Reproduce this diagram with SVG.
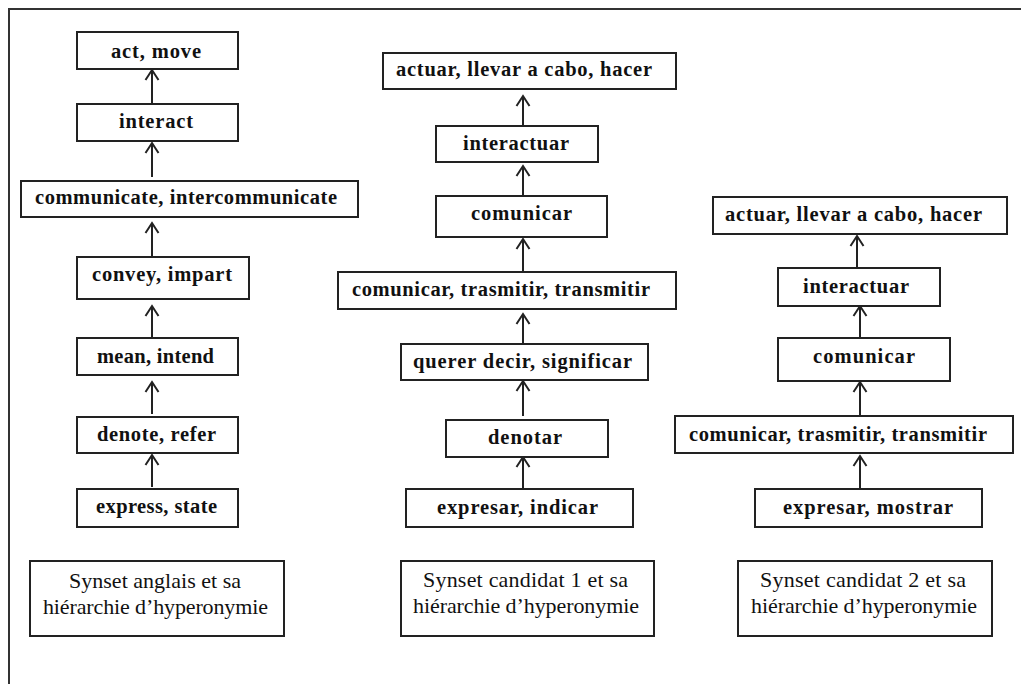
<svg xmlns="http://www.w3.org/2000/svg" width="1021" height="684" viewBox="0 0 1021 684">
<style>
.n{fill:#fff;stroke:#222;stroke-width:2}
.t{font-family:"Liberation Serif","Times New Roman",serif;font-weight:bold;font-size:20.5px;fill:#111;text-anchor:start}
.l{font-family:"Liberation Serif","Times New Roman",serif;font-size:22px;fill:#111}
.c{stroke:#222;stroke-width:2;fill:none;marker-end:url(#ah)}
</style>
<defs>
<marker id="ah" markerUnits="userSpaceOnUse" markerWidth="16" markerHeight="16" refX="12" refY="8" orient="auto" viewBox="0 0 16 16">
<path d="M2,1.5 L12,8 L2,14.5" fill="none" stroke="#222" stroke-width="2"/>
</marker>
</defs>
<rect width="1021" height="684" fill="#fff"/>
<path d="M9,684 V9 H1021" fill="none" stroke="#333" stroke-width="2"/>

<g id="connectors">
<line class="c" x1="152" y1="104" x2="152" y2="70"/>
<line class="c" x1="152" y1="177" x2="152" y2="143"/>
<line class="c" x1="152" y1="257" x2="152" y2="223"/>
<line class="c" x1="152" y1="338" x2="152" y2="306"/>
<line class="c" x1="152" y1="414" x2="152" y2="382"/>
<line class="c" x1="152" y1="487" x2="152" y2="455"/>
<line class="c" x1="523" y1="126" x2="523" y2="96"/>
<line class="c" x1="523" y1="196" x2="523" y2="166"/>
<line class="c" x1="523" y1="272" x2="523" y2="239"/>
<line class="c" x1="523" y1="344" x2="523" y2="314"/>
<line class="c" x1="523" y1="416" x2="523" y2="381"/>
<line class="c" x1="523" y1="489" x2="523" y2="457"/>
<line class="c" x1="857" y1="268" x2="857" y2="236"/>
<line class="c" x1="860" y1="338" x2="860" y2="306"/>
<line class="c" x1="860" y1="416" x2="860" y2="382"/>
<line class="c" x1="860" y1="489" x2="860" y2="456"/>
</g>

<g id="en-act"><rect class="n" x="77" y="32" width="161" height="37"/><text class="t" x="111" y="58" textLength="90" lengthAdjust="spacing">act, move</text></g>
<g id="en-interact"><rect class="n" x="77" y="104" width="161" height="37"/><text class="t" x="119" y="128" textLength="74" lengthAdjust="spacing">interact</text></g>
<g id="en-communicate"><rect class="n" x="21" y="181" width="337" height="36"/><text class="t" x="35" y="204" textLength="302" lengthAdjust="spacing">communicate, intercommunicate</text></g>
<g id="en-convey"><rect class="n" x="77" y="257" width="172" height="42"/><text class="t" x="92" y="281" textLength="140" lengthAdjust="spacing">convey, impart</text></g>
<g id="en-mean"><rect class="n" x="77" y="338" width="161" height="37"/><text class="t" x="97" y="363" textLength="117" lengthAdjust="spacing">mean, intend</text></g>
<g id="en-denote"><rect class="n" x="77" y="417" width="161" height="36"/><text class="t" x="97" y="441" textLength="119" lengthAdjust="spacing">denote, refer</text></g>
<g id="en-express"><rect class="n" x="77" y="489" width="161" height="38"/><text class="t" x="96" y="513" textLength="121" lengthAdjust="spacing">express, state</text></g>
<g id="en-label"><rect class="n" x="30" y="561" width="254" height="75"/><text class="l" x="69" y="588" textLength="172" lengthAdjust="spacing">Synset anglais et sa</text><text class="l" x="43" y="614" textLength="225" lengthAdjust="spacing">hiérarchie d’hyperonymie</text></g>

<g id="c1-actuar"><rect class="n" x="383" y="53" width="293" height="36"/><text class="t" x="396" y="76" textLength="256" lengthAdjust="spacing">actuar, llevar a cabo, hacer</text></g>
<g id="c1-interactuar"><rect class="n" x="436" y="126" width="162" height="36"/><text class="t" x="463" y="150" textLength="106" lengthAdjust="spacing">interactuar</text></g>
<g id="c1-comunicar"><rect class="n" x="436" y="196" width="171" height="41"/><text class="t" x="471" y="220" textLength="101" lengthAdjust="spacing">comunicar</text></g>
<g id="c1-trasmitir"><rect class="n" x="338" y="272" width="338" height="37"/><text class="t" x="352" y="296" textLength="298" lengthAdjust="spacing">comunicar, trasmitir, transmitir</text></g>
<g id="c1-querer"><rect class="n" x="401" y="344" width="247" height="36"/><text class="t" x="413" y="368" textLength="219" lengthAdjust="spacing">querer decir, significar</text></g>
<g id="c1-denotar"><rect class="n" x="446" y="420" width="162" height="37"/><text class="t" x="488" y="444" textLength="74" lengthAdjust="spacing">denotar</text></g>
<g id="c1-expresar"><rect class="n" x="406" y="489" width="227" height="38"/><text class="t" x="437" y="514" textLength="161" lengthAdjust="spacing">expresar, indicar</text></g>
<g id="c1-label"><rect class="n" x="401" y="561" width="253" height="75"/><text class="l" x="423" y="587" textLength="205" lengthAdjust="spacing">Synset candidat 1 et sa</text><text class="l" x="413" y="613" textLength="226" lengthAdjust="spacing">hiérarchie d’hyperonymie</text></g>

<g id="c2-actuar"><rect class="n" x="713" y="197" width="294" height="37"/><text class="t" x="725" y="221" textLength="257" lengthAdjust="spacing">actuar, llevar a cabo, hacer</text></g>
<g id="c2-interactuar"><rect class="n" x="778" y="268" width="162" height="38"/><text class="t" x="803" y="293" textLength="106" lengthAdjust="spacing">interactuar</text></g>
<g id="c2-comunicar"><rect class="n" x="778" y="338" width="172" height="43"/><text class="t" x="813" y="363" textLength="102" lengthAdjust="spacing">comunicar</text></g>
<g id="c2-trasmitir"><rect class="n" x="675" y="416" width="338" height="37"/><text class="t" x="689" y="441" textLength="298" lengthAdjust="spacing">comunicar, trasmitir, transmitir</text></g>
<g id="c2-expresar"><rect class="n" x="755" y="489" width="227" height="38"/><text class="t" x="783" y="514" textLength="170" lengthAdjust="spacing">expresar, mostrar</text></g>
<g id="c2-label"><rect class="n" x="738" y="561" width="254" height="75"/><text class="l" x="760" y="587" textLength="206" lengthAdjust="spacing">Synset candidat 2 et sa</text><text class="l" x="751" y="613" textLength="226" lengthAdjust="spacing">hiérarchie d’hyperonymie</text></g>
</svg>
